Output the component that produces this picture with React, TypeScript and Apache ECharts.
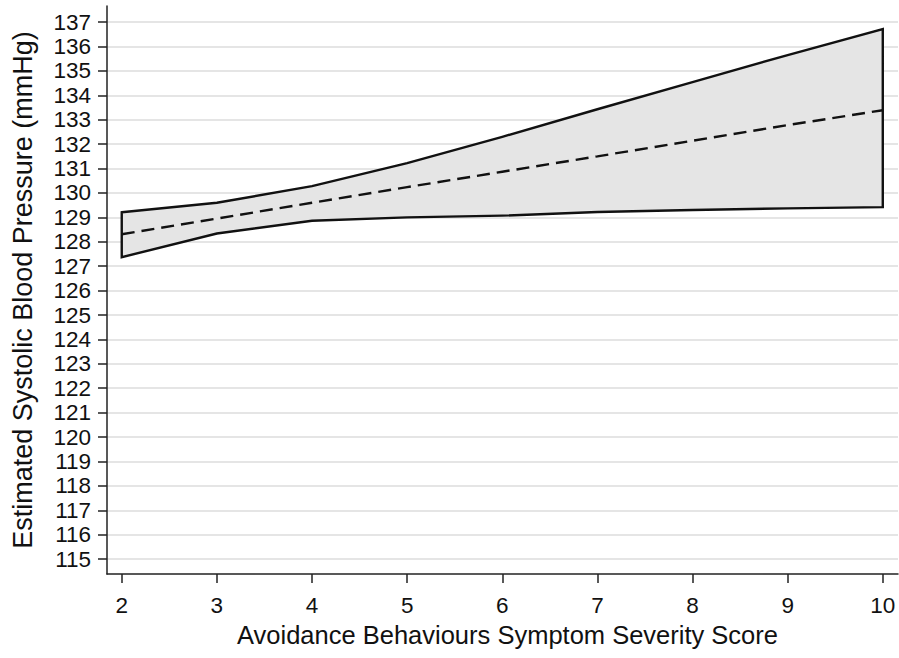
import React, { useEffect, useRef } from "react";
import * as echarts from "echarts";

const xValues = [2, 3, 4, 5, 6, 7, 8, 9, 10];
const upperCI = [129.21, 129.6, 130.28, 131.22, 132.3, 133.43, 134.54, 135.65, 136.71];
const lowerCI = [127.37, 128.34, 128.86, 129.0, 129.07, 129.22, 129.3, 129.37, 129.42];
const estimate = [128.31, 128.95, 129.6, 130.24, 130.87, 131.5, 132.14, 132.78, 133.39];
const xTicks = [2, 3, 4, 5, 6, 7, 8, 9, 10];
const yTicks = Array.from({ length: 23 }, (_, i) => 115 + i);

const FONT = "'Liberation Sans', Arial, sans-serif";

export default function App() {
  const ref = useRef<HTMLDivElement>(null);
  useEffect(() => {
    if (!ref.current) return;
    const chart = echarts.init(ref.current, null, { renderer: "svg" });
    const bandPoints = [
      ...xValues.map((x, i) => [x, upperCI[i]]),
      ...xValues.map((x, i) => [x, lowerCI[i]]).reverse(),
    ];
    chart.setOption({
      animation: false,
      backgroundColor: "#fff",
      grid: { left: 107, right: 1, top: 6, bottom: 84 },
      xAxis: {
        type: "value",
        min: 1.845,
        max: 10.16,
        name: "Avoidance Behaviours Symptom Severity Score",
        nameLocation: "middle",
        nameGap: 47,
        nameTextStyle: { fontFamily: FONT, fontSize: 25.5, color: "#111", padding: [0, 0, 0, 10] },
        axisLine: { show: true, lineStyle: { color: "#222", width: 1.5 } },
        axisTick: { show: true, length: 9, customValues: xTicks, lineStyle: { color: "#222", width: 1.5 } },
        axisLabel: { customValues: xTicks, margin: 20, fontFamily: FONT, fontSize: 22.5, color: "#111" },
        splitLine: { show: false },
      },
      yAxis: {
        type: "value",
        min: 114.39,
        max: 137.66,
        name: "Estimated Systolic Blood Pressure (mmHg)",
        nameLocation: "middle",
        nameGap: 71,
        nameTextStyle: { fontFamily: FONT, fontSize: 27, color: "#111" },
        axisLine: { show: true, lineStyle: { color: "#222", width: 1.5 } },
        axisTick: { show: true, length: 9, customValues: yTicks, lineStyle: { color: "#222", width: 1.5 } },
        axisLabel: { customValues: yTicks, margin: 16, fontFamily: FONT, fontSize: 22.5, color: "#111" },
        splitLine: { show: true, lineStyle: { color: "#dcdcdc", width: 1.5 } },
      },
      series: [
        {
          type: "custom",
          data: [0],
          silent: true,
          z: 2,
          renderItem: (params: any, api: any) => {
            const pts = bandPoints.map((p) => api.coord(p));
            return {
              type: "polygon",
              shape: { points: pts },
              style: { fill: "#e5e5e5", stroke: "#111", lineWidth: 2.4 },
            };
          },
        },
        {
          type: "line",
          data: xValues.map((x, i) => [x, estimate[i]]),
          symbol: "none",
          z: 3,
          lineStyle: { color: "#111", width: 2.4, type: [13, 7] },
        },
      ],
    });
    return () => chart.dispose();
  }, []);
  return <div ref={ref} style={{ width: 899, height: 658, position: "absolute", left: 0, top: 0 }} />;
}
